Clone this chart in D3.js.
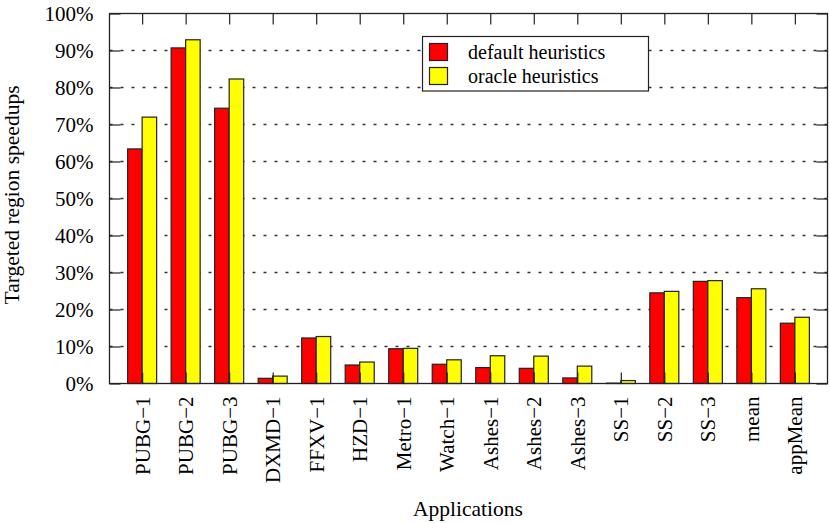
<!DOCTYPE html>
<html><head><meta charset="utf-8">
<script src="https://cdn.jsdelivr.net/npm/d3@7"></script>
<style>body{margin:0;background:#fff}svg{display:block}text{font-family:"Liberation Serif","Times New Roman",serif;fill:#000}</style>
</head><body><svg id="c" width="830" height="523"></svg>
<script>
const categories = ["PUBG\u22121","PUBG\u22122","PUBG\u22123","DXMD\u22121","FFXV\u22121","HZD\u22121","Metro\u22121","Watch\u22121","Ashes\u22121","Ashes\u22122","Ashes\u22123","SS\u22121","SS\u22122","SS\u22123","mean","appMean"];
const defaultHeuristics = [63.4, 90.7, 74.4, 1.4, 12.3, 5.0, 9.4, 5.2, 4.3, 4.1, 1.5, 0.1, 24.5, 27.6, 23.2, 16.3];
const oracleHeuristics  = [72.0, 92.9, 82.3, 2.0, 12.7, 5.8, 9.5, 6.4, 7.5, 7.4, 4.7, 0.8, 24.9, 27.8, 25.6, 17.9];
const seriesNames = ["default heuristics","oracle heuristics"];
const seriesColors = ["#ff0000","#ffff00"];
const yTicks = [0,10,20,30,40,50,60,70,80,90,100];

const svg = d3.select("#c");
const L=109.5, R=827.5, T=13.5, B=383.5;
const x = d3.scaleLinear().domain([-0.75, categories.length-0.25]).range([L,R]);
const y = d3.scaleLinear().domain([0,100]).range([B,T]);
const bw = 1/3;
const axisCol = "#222";
const FONT = '"Liberation Serif","Times New Roman",serif';

// grid
svg.append("g").selectAll("line").data(yTicks.filter(d=>d>0&&d<100)).join("line")
  .attr("x1",L).attr("x2",R).attr("y1",d=>y(d)).attr("y2",d=>y(d))
  .attr("stroke","#333").attr("stroke-width",1.3).attr("stroke-dasharray","3,8");

// bars
const series=[defaultHeuristics,oracleHeuristics];
series.forEach((vals,s)=>{
  svg.append("g").selectAll("rect").data(vals).join("rect")
    .attr("x",(d,i)=>x(i-bw+s*bw)).attr("width",x(bw)-x(0))
    .attr("y",d=>y(d)).attr("height",d=>y(0)-y(d))
    .attr("fill",seriesColors[s]).attr("stroke","#222").attr("stroke-width",1.2);
});

// y axis left and right with inward ticks
const yAxisL = d3.axisLeft(y).tickValues(yTicks).tickSize(-11).tickFormat(d=>d+"%").tickPadding(16);
const gL = svg.append("g").attr("transform",`translate(${L},0)`).call(yAxisL);
gL.attr("font-family",FONT);
gL.select(".domain").remove();
gL.selectAll("text").style("font-size","21px").attr("fill","#000");
gL.selectAll("line").attr("stroke",axisCol).attr("stroke-width",1.2);
const yAxisR = d3.axisRight(y).tickValues(yTicks).tickSize(-11).tickFormat("");
const gR = svg.append("g").attr("transform",`translate(${R},0)`).call(yAxisR);
gR.select(".domain").remove();
gR.selectAll("line").attr("stroke",axisCol).attr("stroke-width",1.2);

// x axis bottom and top
const idx = d3.range(categories.length);
const xAxisB = d3.axisBottom(x).tickValues(idx).tickSize(-11).tickFormat(i=>categories[i]);
const gB = svg.append("g").attr("transform",`translate(0,${B})`).call(xAxisB);
gB.attr("font-family",FONT);
gB.select(".domain").remove();
gB.selectAll("line").attr("stroke",axisCol).attr("stroke-width",1.2);
gB.selectAll("text").style("font-size","21px").attr("fill","#000")
  .attr("text-anchor","end").attr("dy","0.33em")
  .attr("transform","translate(0,13) rotate(-90)").attr("x",0).attr("y",0);
const xAxisT = d3.axisTop(x).tickValues(idx).tickSize(-11).tickFormat("");
const gT = svg.append("g").attr("transform",`translate(0,${T})`).call(xAxisT);
gT.select(".domain").remove();
gT.selectAll("line").attr("stroke",axisCol).attr("stroke-width",1.2);

// frame
svg.append("rect").attr("x",L).attr("y",T).attr("width",R-L).attr("height",B-T)
  .attr("fill","none").attr("stroke",axisCol).attr("stroke-width",1.3);

// axis titles
svg.append("text").attr("x",468).attr("y",516).attr("text-anchor","middle").style("font-size","21.5px").text("Applications");
svg.append("text").attr("transform","translate(19,195) rotate(-90)").attr("text-anchor","middle").style("font-size","21.5px").text("Targeted region speedups");

// legend
const lg = svg.append("g");
lg.append("rect").attr("x",422.5).attr("y",36.5).attr("width",226).attr("height",54.5)
  .attr("fill","#fff").attr("stroke",axisCol).attr("stroke-width",1.2);
seriesNames.forEach((n,s)=>{
  lg.append("rect").attr("x",429.5).attr("y",43.5+s*24).attr("width",18).attr("height",17)
    .attr("fill",seriesColors[s]).attr("stroke","#222").attr("stroke-width",1.2);
  lg.append("text").attr("x",468).attr("y",52+s*24).attr("dy","0.35em").style("font-size","20px").text(n);
});
</script></body></html>
